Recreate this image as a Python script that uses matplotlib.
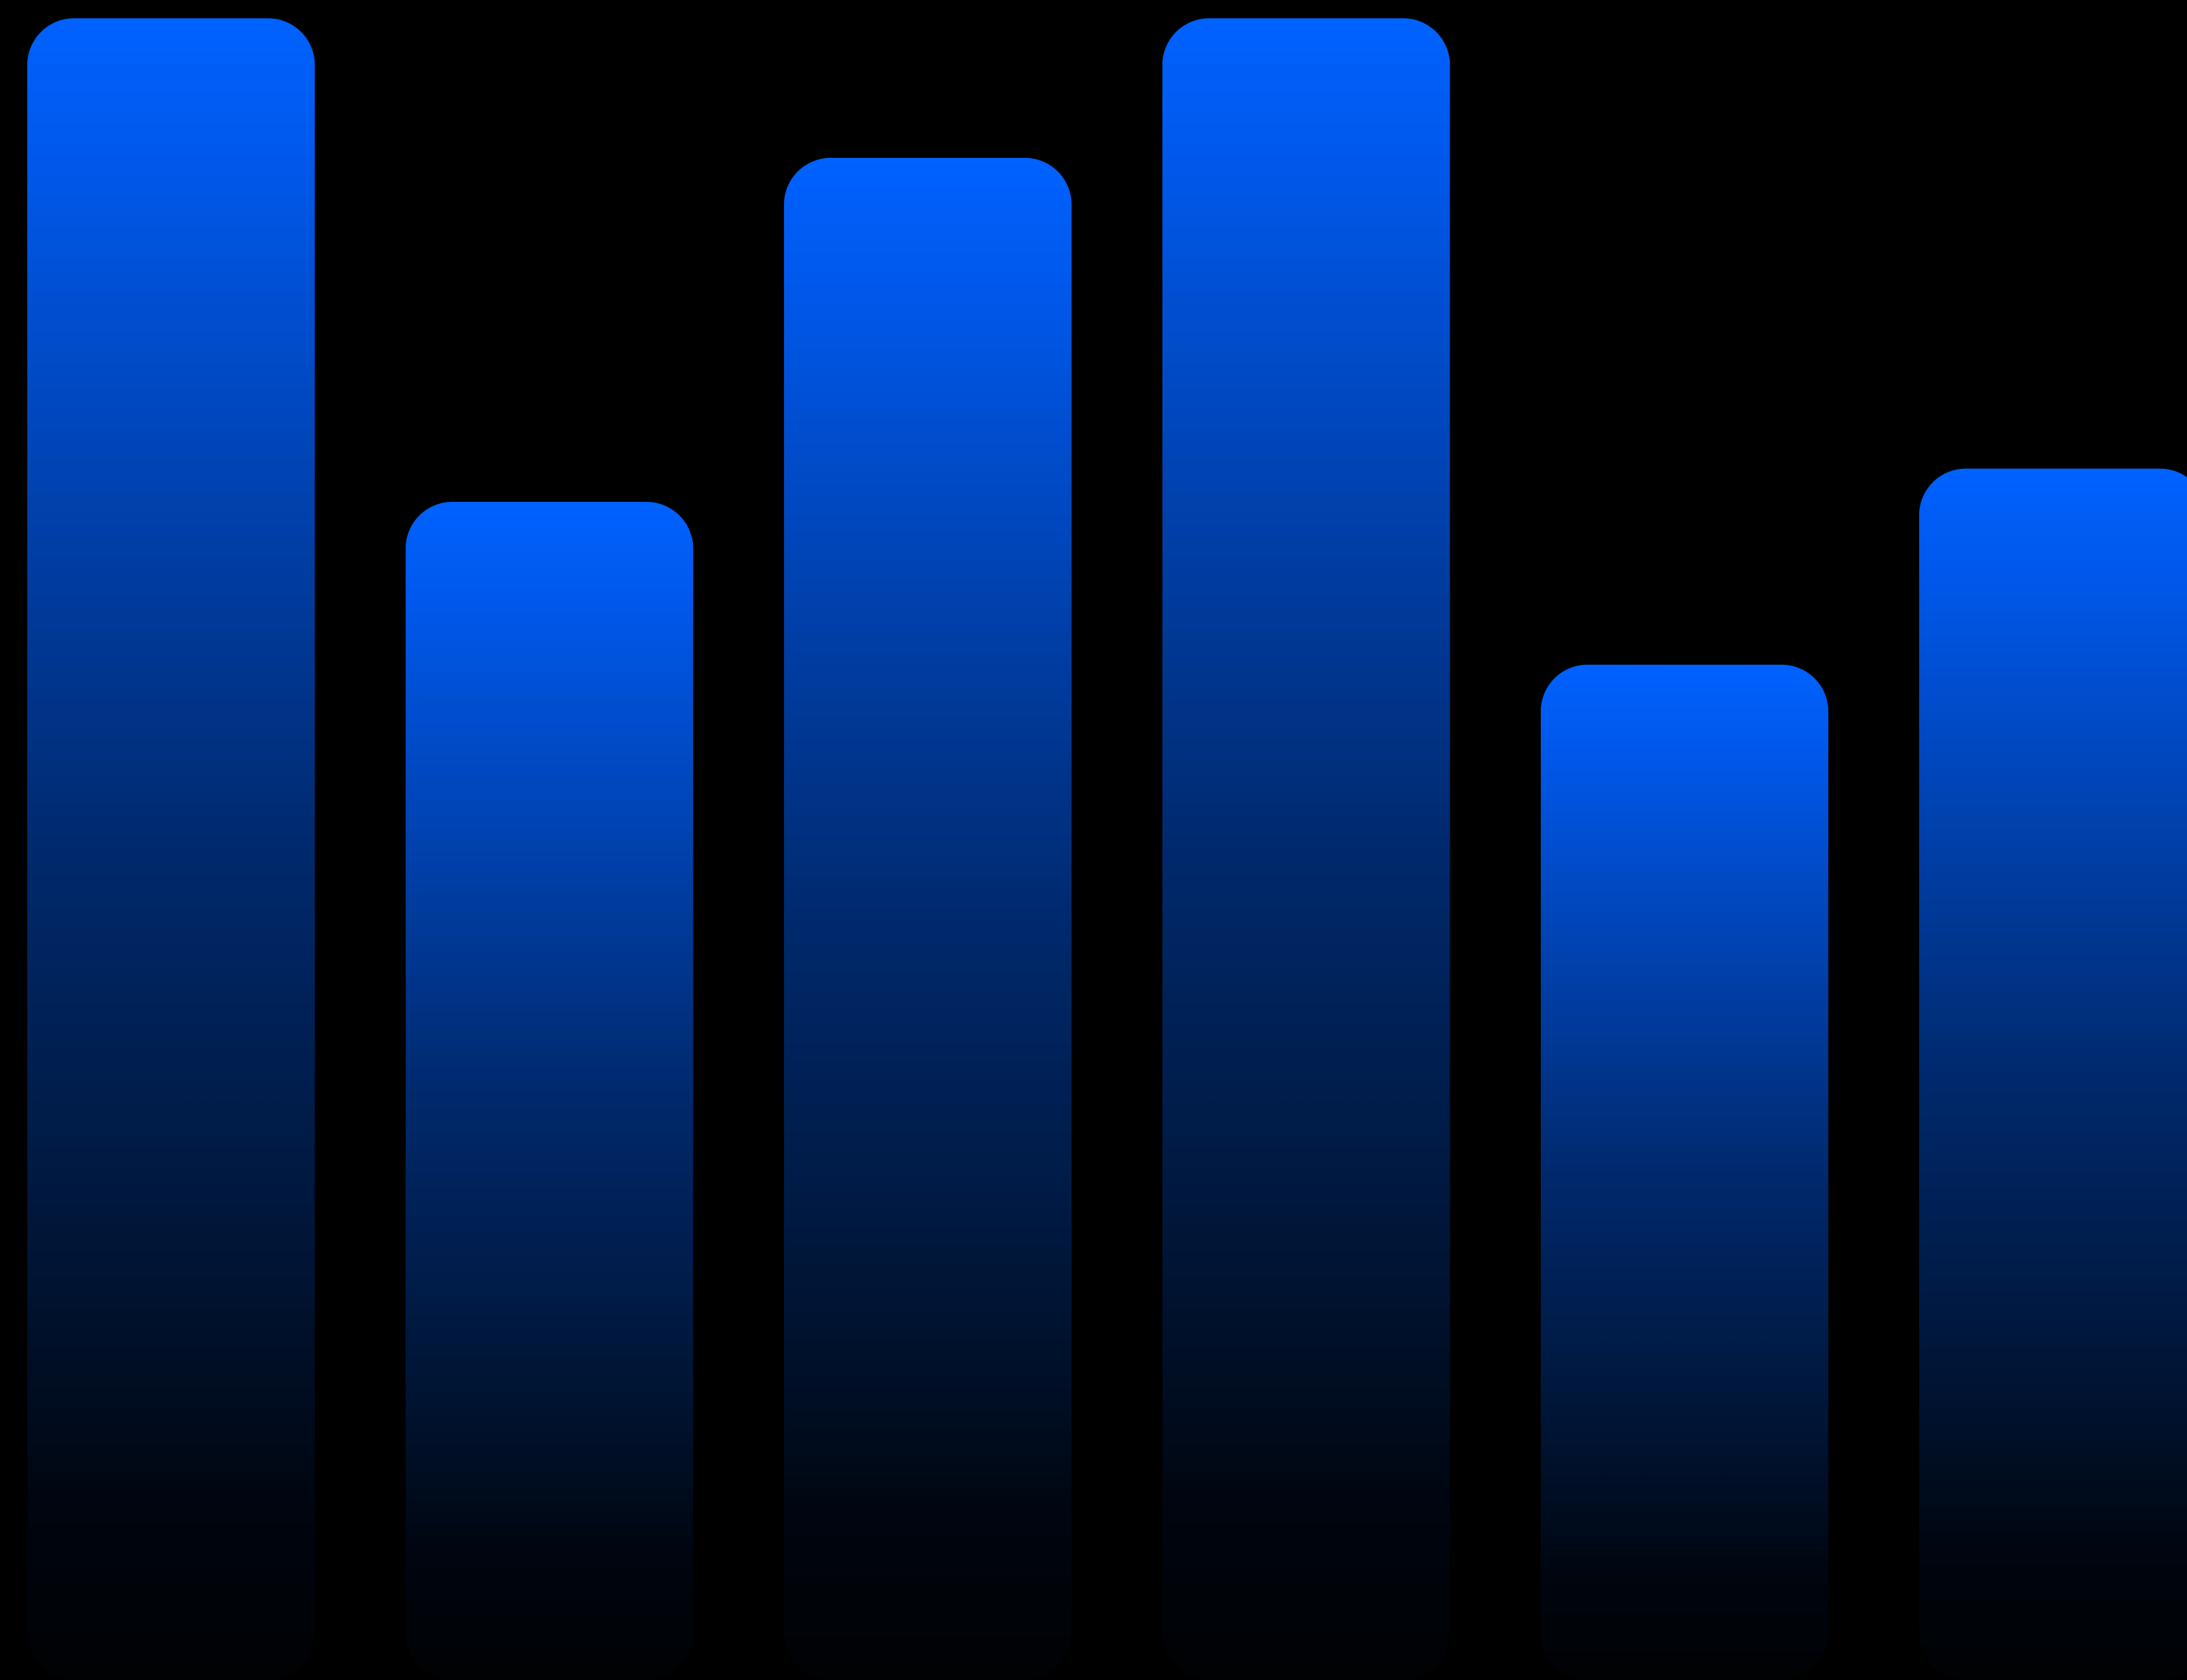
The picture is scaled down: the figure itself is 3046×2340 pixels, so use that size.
import matplotlib
matplotlib.use("Agg")
import matplotlib.pyplot as plt
import numpy as np
from matplotlib.colors import LinearSegmentedColormap
from matplotlib.patches import PathPatch
from matplotlib.path import Path

# bar values (relative height, tallest = 100)
categories = [0, 1, 2, 3, 4, 5]
values = [100, 70.9, 91.6, 100, 61.1, 72.9]

# gradient: bright blue at the top of each bar fading to black at the bottom
grad = LinearSegmentedColormap.from_list(
    "bar_fade",
    [(0.0, "#000204"), (0.1, "#00060f"), (0.25, "#001535"),
     (0.5, "#002a6e"), (0.75, "#0046ba"), (0.92, "#0059ec"), (1.0, "#0062ff")])

XLIM = (-0.452, 5.328)
YLIM = (0, 101.1)
DPI = 100

fig = plt.figure(figsize=(30.46, 23.40), dpi=DPI)
fig.patch.set_facecolor("black")
ax = fig.add_axes([0, 0, 1, 1])
ax.set_facecolor("black")
ax.set_xlim(*XLIM)
ax.set_ylim(*YLIM)
ax.axis("off")

bar_w = 0.76
radius_px = 65

# data units per output pixel, so corners stay circular in the saved png
w_px, h_px = fig.get_size_inches() * DPI
rx = radius_px * (XLIM[1] - XLIM[0]) / w_px
ry = radius_px * (YLIM[1] - YLIM[0]) / h_px


def rounded_bar(x0, w, h):
    t = np.linspace(0, np.pi / 2, 30)
    pts = []
    # bottom-right -> top-right -> top-left -> bottom-left
    for cx, cy, a0 in [(x0 + w - rx, ry, -np.pi / 2), (x0 + w - rx, h - ry, 0),
                       (x0 + rx, h - ry, np.pi / 2), (x0 + rx, ry, np.pi)]:
        a = a0 + t
        pts += list(zip(cx + rx * np.cos(a), cy + ry * np.sin(a)))
    pts.append(pts[0])
    return Path(pts, closed=True)


ramp = np.linspace(0, 1, 512).reshape(-1, 1)

for c, v in zip(categories, values):
    x0 = c - bar_w / 2
    patch = PathPatch(rounded_bar(x0, bar_w, v), facecolor="none", edgecolor="none")
    ax.add_patch(patch)
    im = ax.imshow(ramp, cmap=grad, origin="lower", aspect="auto",
                   extent=[x0, x0 + bar_w, 0, v], interpolation="bilinear")
    im.set_clip_path(patch)

ax.set_xlim(*XLIM)
ax.set_ylim(*YLIM)

plt.savefig("out.png", dpi=DPI, facecolor="black")
